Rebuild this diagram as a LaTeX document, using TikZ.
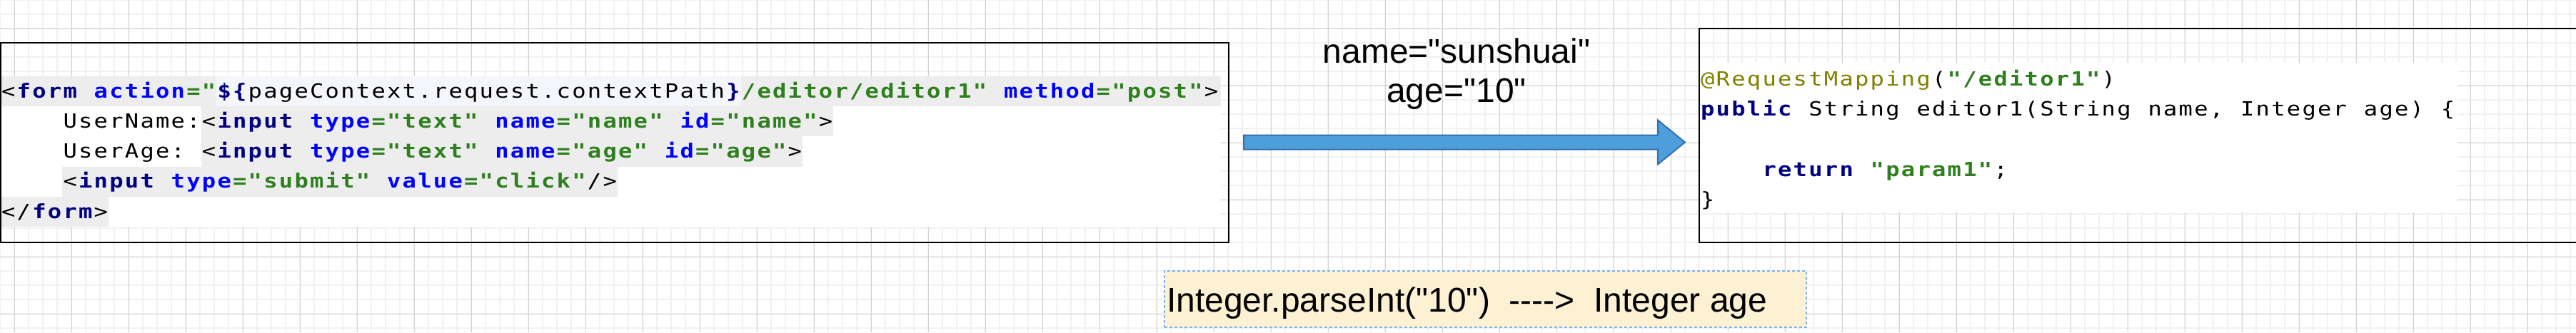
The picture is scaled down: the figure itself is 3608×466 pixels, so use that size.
\documentclass[tikz,border=0pt]{standalone}
\usepackage{fontspec}
\usepackage{graphicx}
\setmainfont{Liberation Sans}[Ligatures=TeXOff]
\newfontfamily\codefont{DejaVu Sans Mono}[Ligatures=TeXOff]
\usetikzlibrary{calc}
\definecolor{cnavy}{HTML}{000080}
\definecolor{cattr}{HTML}{0000FF}
\definecolor{cval}{HTML}{2F7F1F}
\definecolor{colive}{HTML}{808000}
\definecolor{cband}{HTML}{EDEDED}
\definecolor{cbandlight}{HTML}{F5F6FB}
\definecolor{cminor}{HTML}{F1F1F1}
\definecolor{cmajor}{HTML}{D2D2D2}
\definecolor{carrowfill}{HTML}{4E9EDB}
\definecolor{carrowline}{HTML}{3470B0}
\definecolor{clabfill}{HTML}{FCF1D2}
\definecolor{clabline}{HTML}{7DB0EE}
\newlength\cellw
\setlength\cellw{21.6pt}
\def\mtend{MTEND}
\def\mtloop#1{\ifx\mtend#1\else\makebox[\cellw][c]{\scalebox{1.17}[1]{#1}}\expandafter\mtloop\fi}
\newcommand\cmono[1]{\mtloop#1\mtend}
\newcommand\cseg[2]{{\color{#1}\cmono{#2}}}
\newcommand\cbold[2]{{\bfseries\color{#1}\cmono{#2}}}
\tikzset{
  minorgrid/.style={draw=cminor, line width=1.5pt},
  majorgrid/.style={draw=cmajor, line width=1pt},
  frame/.style={draw=black, line width=2.5pt, inner sep=0pt, outer sep=0pt},
  codeline/.style={anchor=base west, inner sep=0pt, outer sep=0pt, font={\codefont\fontsize{27.5pt}{30pt}\selectfont}},
  biglabel/.style={inner sep=0pt, outer sep=0pt, font={\fontsize{48pt}{55pt}\selectfont}},
  fatarrow/.style={fill=carrowfill, draw=carrowline, line width=2pt, line join=miter},
  labbox/.style={fill=clabfill, draw=clabline, line width=2pt, dash pattern=on 4pt off 3pt, inner sep=0pt, outer sep=0pt}
}
\begin{document}
\begin{tikzpicture}[x=1pt, y=-1pt]
\useasboundingbox (0,0) rectangle (3608,466);
\clip (0,0) rectangle (3608,466);
\fill[white] (0,0) rectangle (3608,466);
% grid
\foreach \x in {0,20,...,3600} \draw[minorgrid] (\x,0) -- (\x,466);
\foreach \y in {0,20,...,460} \draw[minorgrid] (0,\y) -- (3608,\y);
\foreach \x in {20,100,...,3580} \draw[majorgrid] (\x,0) -- (\x,466);
\foreach \y in {40,120,...,440} \draw[majorgrid] (0,\y) -- (3608,\y);
% code backgrounds
\fill[white] (0,107) rectangle (1710,318);
\fill[white] (2382,88) rectangle (3442,298);
\fill[cband] (0,107) rectangle (1710,149.2);
\fill[cbandlight] (303.4,107) rectangle (1037.8,149.2);
\fill[cband] (281.8,149.2) rectangle (1167.4,191.4);
\fill[cband] (281.8,191.4) rectangle (1124.2,233.6);
\fill[cband] (87.4,233.6) rectangle (865,275.8);
\fill[cband] (0,275.8) rectangle (152.2,318);
% boxes
\node[frame, anchor=north west, minimum width=1720pt, minimum height=280pt] (L) at (1,60) {};
\node[frame, anchor=north west, minimum width=1250pt, minimum height=300pt] (R) at (2380,40) {};
% left code
\node[codeline] (l1) at (1,137.2) {\cseg{black}{<}\cbold{cnavy}{form}\cmono{~}\cbold{cattr}{action}\cbold{cval}{="}\cbold{cnavy}{\$\{}\cseg{black}{pageContext.request.contextPath}\cbold{cnavy}{\}}\cbold{cval}{/editor/editor1"}\cmono{~}\cbold{cattr}{method}\cbold{cval}{="post"}\cseg{black}{>}};
\node[codeline] (l2) at (1,179.4) {\cmono{~~~~UserName:}\cseg{black}{<}\cbold{cnavy}{input}\cmono{~}\cbold{cattr}{type}\cbold{cval}{="text"}\cmono{~}\cbold{cattr}{name}\cbold{cval}{="name"}\cmono{~}\cbold{cattr}{id}\cbold{cval}{="name"}\cseg{black}{>}};
\node[codeline] (l3) at (1,221.6) {\cmono{~~~~UserAge:~}\cseg{black}{<}\cbold{cnavy}{input}\cmono{~}\cbold{cattr}{type}\cbold{cval}{="text"}\cmono{~}\cbold{cattr}{name}\cbold{cval}{="age"}\cmono{~}\cbold{cattr}{id}\cbold{cval}{="age"}\cseg{black}{>}};
\node[codeline] (l4) at (1,263.8) {\cmono{~~~~}\cseg{black}{<}\cbold{cnavy}{input}\cmono{~}\cbold{cattr}{type}\cbold{cval}{="submit"}\cmono{~}\cbold{cattr}{value}\cbold{cval}{="click"}\cseg{black}{/>}};
\node[codeline] (l5) at (1,306) {\cseg{black}{</}\cbold{cnavy}{form}\cseg{black}{>}};
% right code
\node[codeline] (r1) at (2381,120.5) {\cseg{colive}{@RequestMapping}\cseg{black}{(}\cbold{cval}{"/editor1"}\cseg{black}{)}};
\node[codeline] (r2) at (2381,162.7) {\cbold{cnavy}{public}\cmono{~String~editor1(String~name,~Integer~age)~\{}};
\node[codeline] (r4) at (2381,247.1) {\cmono{~~~~}\cbold{cnavy}{return}\cmono{~}\cbold{cval}{"param1"}\cmono{;}};
\node[codeline] (r5) at (2381,289.3) {\cmono{\}}};
% arrow
\coordinate (as) at ($(L.east)+(21,-0.5)$);
\coordinate (at) at ($(R.west |- as)+(-20,0)$);
\draw[fatarrow] ($(as)+(0,-10)$) -- ($(at)+(-38,-10)$) -- ($(at)+(-38,-31)$) -- (at) -- ($(at)+(-38,31)$) -- ($(at)+(-38,10)$) -- ($(as)+(0,10)$) -- cycle;
% arrow label
\node[biglabel, anchor=base] (kv1) at (2040,88) {name="sunshuai"};
\node[biglabel, anchor=base] (kv2) at (2040,143) {age="10"};
% bottom label
\node[labbox, anchor=north west, minimum width=899pt, minimum height=79pt] (LB) at (1631,380) {};
\node[biglabel, anchor=base west] (LT) at (1634,437) {Integer.parseInt("10")\ \ ---->\ \ Integer age};
\end{tikzpicture}
\end{document}
